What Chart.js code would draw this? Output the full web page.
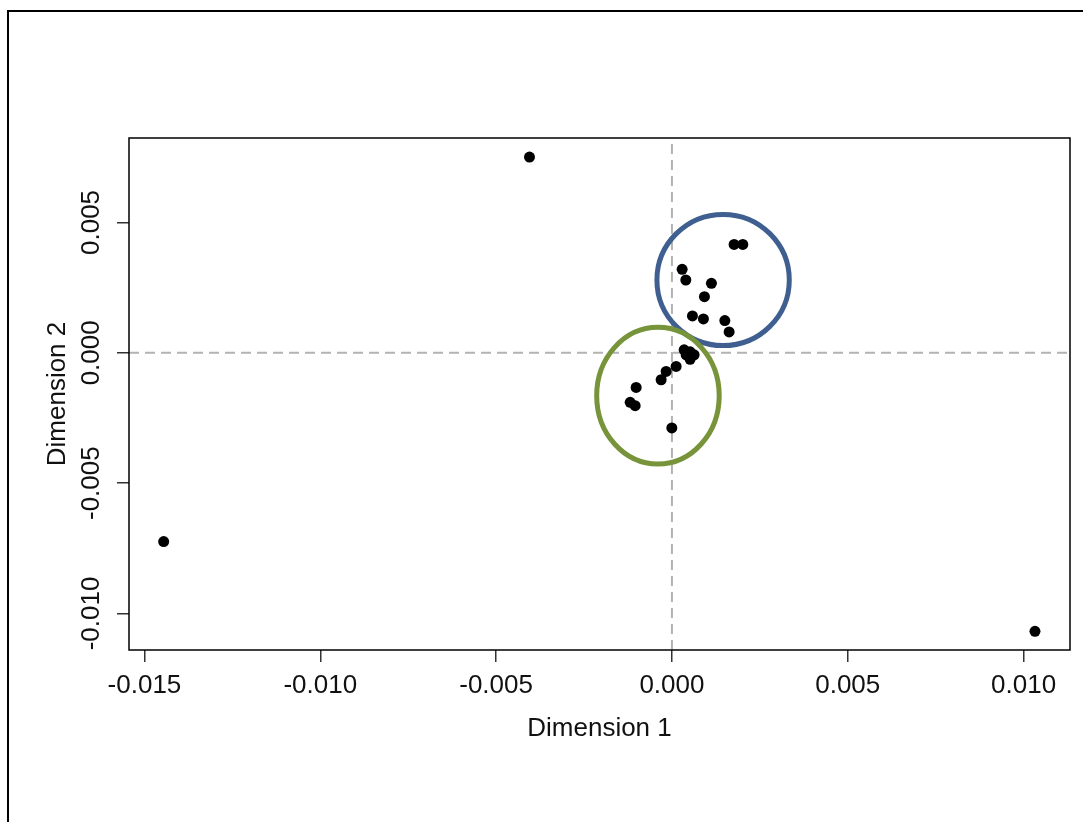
<!DOCTYPE html>
<html>
<head>
<meta charset="utf-8">
<title>Dimension 1 vs Dimension 2</title>
<script src="https://cdn.jsdelivr.net/npm/chart.js@4.4.1/dist/chart.umd.min.js"></script>
<style>
  html, body { margin: 0; padding: 0; background: #ffffff; }
  canvas { display: block; }
</style>
</head>
<body>
<canvas id="mds" width="1083" height="822"></canvas>
<script>
// Coordinates of each item on the two scaling dimensions
const dim1 = [
  -0.004051, -0.014454, 0.010324,
  0.001768, 0.002015, 0.000290, 0.000395, 0.001123, 0.000924,
  0.000583, 0.000895, 0.001504, 0.001626,
  0.000347, 0.000517, 0.000631, 0.000517, 0.000404,
  0.000119, -0.000165, -0.000307, -0.001018, -0.001188, -0.001046, -0.000003
];
const dim2 = [
  0.007510, -0.007242, -0.010685,
  0.004158, 0.004158, 0.003202, 0.002793, 0.002666, 0.002154,
  0.001415, 0.001301, 0.001236, 0.000803,
  0.000115, 0.000038, -0.000077, -0.000249, -0.000077,
  -0.000524, -0.000715, -0.001033, -0.001327, -0.001901, -0.002028, -0.002881
];

// Axis ticks and limits
const xTickValues = [-0.015, -0.010, -0.005, 0.000, 0.005, 0.010];
const yTickValues = [-0.010, -0.005, 0.000, 0.005];
const xLimits = [-0.01544, 0.01132];
const yLimits = [-0.01140, 0.00824];

// Group outlines (centre and half-widths in data units)
const groupCentreX = [0.001455, -0.000398];
const groupCentreY = [0.002793, -0.001645];
const groupHalfX   = [0.001882, 0.001742];
const groupHalfY   = [0.002517, 0.002621];
const groupColours = ['#3e5f8f', '#77943b'];

const FONT = '"Liberation Sans", Arial, Helvetica, sans-serif';
Chart.defaults.font.family = FONT;
Chart.defaults.color = '#111111';

const points = dim1.map((x, i) => ({ x: x, y: dim2[i] }));

// Frame around the plotting region, plus the figure's outer edge
const framePlugin = {
  id: 'frame',
  beforeDraw(chart) {
    const ctx = chart.ctx;
    ctx.save();
    ctx.fillStyle = '#ffffff';
    ctx.fillRect(0, 0, chart.width, chart.height);
    ctx.restore();
  },
  afterDraw(chart) {
    const { ctx, chartArea: a } = chart;
    ctx.save();
    ctx.strokeStyle = '#000000';
    ctx.lineWidth = 1.5;
    ctx.strokeRect(a.left, a.top, a.right - a.left, a.bottom - a.top);
    ctx.lineWidth = 2;
    ctx.beginPath();
    ctx.moveTo(8, chart.height);
    ctx.lineTo(8, 11);
    ctx.lineTo(chart.width, 11);
    ctx.stroke();
    ctx.restore();
  }
};

// Ellipses marking the two groups
const groupPlugin = {
  id: 'groups',
  afterDatasetsDraw(chart) {
    const { ctx, scales: { x, y } } = chart;
    ctx.save();
    ctx.lineWidth = 5;
    groupCentreX.forEach((cx, i) => {
      const px = x.getPixelForValue(cx);
      const py = y.getPixelForValue(groupCentreY[i]);
      const rx = Math.abs(x.getPixelForValue(cx + groupHalfX[i]) - px);
      const ry = Math.abs(y.getPixelForValue(groupCentreY[i] + groupHalfY[i]) - py);
      ctx.strokeStyle = groupColours[i];
      ctx.beginPath();
      ctx.ellipse(px, py, rx, ry, 0, 0, Math.PI * 2);
      ctx.stroke();
    });
    ctx.restore();
  }
};

const refStyle = {
  type: 'line',
  borderColor: '#b3b3b3',
  borderWidth: 2,
  borderDash: [10, 6],
  pointRadius: 0,
  fill: false
};

new Chart(document.getElementById('mds'), {
  type: 'scatter',
  data: {
    datasets: [
      Object.assign({ data: [{ x: xLimits[0], y: 0 }, { x: xLimits[1], y: 0 }], order: 3 }, refStyle),
      Object.assign({ data: [{ x: 0, y: yLimits[0] }, { x: 0, y: yLimits[1] }], order: 2 }, refStyle),
      {
        data: points,
        backgroundColor: '#000000',
        borderWidth: 0,
        pointRadius: 5.5,
        pointHoverRadius: 5.5,
        order: 1
      }
    ]
  },
  options: {
    responsive: false,
    animation: false,
    events: [],
    layout: { padding: { left: 0, top: 138, right: 13, bottom: 0 } },
    plugins: { legend: { display: false }, tooltip: { enabled: false } },
    scales: {
      x: {
        type: 'linear',
        min: xLimits[0],
        max: xLimits[1],
        afterBuildTicks: s => { s.ticks = xTickValues.map(v => ({ value: v })); },
        afterFit: s => { s.height = 172; },
        border: { display: false },
        grid: { drawOnChartArea: false, drawTicks: true, tickLength: 12, color: '#333333', lineWidth: 1.5 },
        ticks: {
          autoSkip: false,
          maxRotation: 0,
          minRotation: 0,
          padding: 8,
          color: '#111111',
          font: { size: 26 },
          callback: v => v.toFixed(3)
        },
        title: {
          display: true,
          text: 'Dimension 1',
          color: '#111111',
          font: { size: 26 },
          padding: { top: 0, bottom: 78 }
        }
      },
      y: {
        type: 'linear',
        min: yLimits[0],
        max: yLimits[1],
        afterBuildTicks: s => { s.ticks = yTickValues.map(v => ({ value: v })); },
        afterFit: s => { s.width = 129; },
        border: { display: false },
        grid: { drawOnChartArea: false, drawTicks: true, tickLength: 12, color: '#333333', lineWidth: 1.5 },
        ticks: {
          autoSkip: false,
          minRotation: 90,
          maxRotation: 90,
          crossAlign: 'center',
          padding: -11.9,
          color: '#111111',
          font: { size: 26 },
          callback: v => v.toFixed(3)
        },
        title: {
          display: true,
          text: 'Dimension 2',
          color: '#111111',
          font: { size: 26 },
          padding: { top: 42, bottom: 0 }
        }
      }
    }
  },
  plugins: [framePlugin, groupPlugin]
});
</script>
</body>
</html>
